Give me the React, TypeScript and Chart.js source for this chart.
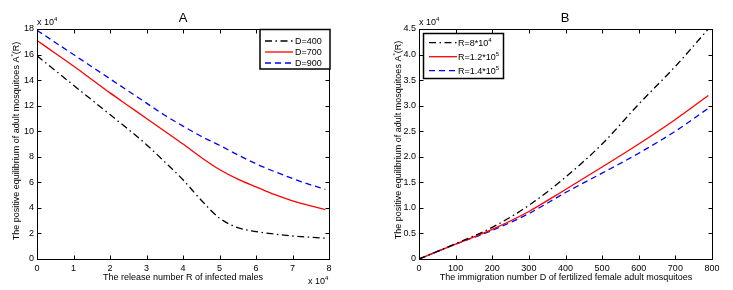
import React, { useEffect, useRef } from 'react';
import { Chart, registerables } from 'chart.js';
Chart.register(...registerables);

// Panel A: release number R (x 10^4) vs A*(R) (x 10^4)
const releaseR = [0, 0.5, 1, 1.5, 2, 2.5, 3, 3.5, 4, 4.5, 5, 5.5, 6, 6.5, 7, 7.5, 7.9];
const aD400 = [15.9, 14.75, 13.6, 12.45, 11.3, 10.15, 8.95, 7.6, 6.2, 4.6, 3.2, 2.45, 2.15, 1.95, 1.8, 1.7, 1.63];
const aD700 = [17.1, 16.1, 15.1, 14.05, 13.0, 12.0, 11.0, 10.0, 9.0, 7.95, 7.0, 6.25, 5.65, 5.05, 4.55, 4.15, 3.87];
const aD900 = [17.9, 16.95, 16.0, 15.05, 14.1, 13.15, 12.2, 11.25, 10.4, 9.6, 8.9, 8.15, 7.45, 6.85, 6.3, 5.8, 5.45];
const aLabels = ['D=400', 'D=700', 'D=900'];

// Panel B: immigration number D vs A*(R) (x 10^4)
const immigD = [0, 100, 200, 300, 400, 500, 600, 700, 790];
const bR8e4 = [0, 0.3, 0.62, 1.05, 1.6, 2.25, 3.03, 3.77, 4.5];
const bR12e5 = [0, 0.29, 0.58, 0.93, 1.36, 1.8, 2.25, 2.73, 3.2];
const bR14e5 = [0, 0.29, 0.56, 0.89, 1.3, 1.68, 2.07, 2.5, 2.95];
const bLabels = [
  [{ t: 'R=8*10' }, { t: '4', sup: true }],
  [{ t: 'R=1.2*10' }, { t: '5', sup: true }],
  [{ t: 'R=1.4*10' }, { t: '5', sup: true }],
];

const FONT = '"Liberation Sans", Arial, sans-serif';
const COLORS = ['#000000', '#ff0000', '#0000ff'];
const DASHES = [[7, 3.5, 1.5, 3.5], [], [6, 4]];

type Part = { t: string; sup?: boolean };

function richWidth(ctx: CanvasRenderingContext2D, parts: Part[], size: number) {
  let w = 0;
  for (const p of parts) {
    ctx.font = `${p.sup ? Math.round(size * 0.65) : size}px ${FONT}`;
    w += ctx.measureText(p.t).width;
  }
  return w;
}

function drawRich(ctx: CanvasRenderingContext2D, parts: Part[], x: number, y: number, size: number, align: 'left' | 'center' = 'left') {
  const w = richWidth(ctx, parts, size);
  let cx = align === 'center' ? x - w / 2 : x;
  ctx.textAlign = 'left';
  ctx.textBaseline = 'alphabetic';
  for (const p of parts) {
    const s = p.sup ? Math.round(size * 0.65) : size;
    ctx.font = `${s}px ${FONT}`;
    ctx.fillText(p.t, cx, p.sup ? y - size * 0.45 : y);
    cx += ctx.measureText(p.t).width;
  }
}

type Deco = {
  title: string; titleX: number;
  topMult: number; bottomMult?: [number, number];
  xTitle: string; xTitleX: number;
  yTitleX: number; yTitleY: number;
  legend: { box: [number, number, number, number]; rows: number[]; lineX: [number, number]; textX: number; labels: Part[][] };
};

const framePlugin = {
  id: 'frameDeco',
  afterDraw(chart: any, _a: any, opts: any) {
    const d: Deco = opts.deco;
    if (!d) return;
    const { ctx, chartArea: ca, scales } = chart;
    ctx.save();
    ctx.strokeStyle = '#000';
    ctx.lineWidth = 1;
    ctx.setLineDash([]);
    const L = Math.round(ca.left) + 0.5, R = Math.round(ca.right) + 0.5;
    const T = Math.round(ca.top) + 0.5, B = Math.round(ca.bottom) + 0.5;
    ctx.strokeRect(L, T, R - L, B - T);
    ctx.beginPath();
    for (const t of scales.x.ticks) {
      const px = Math.round(scales.x.getPixelForValue(t.value)) + 0.5;
      ctx.moveTo(px, B); ctx.lineTo(px, B - 4);
      ctx.moveTo(px, T); ctx.lineTo(px, T + 4);
    }
    for (const t of scales.y.ticks) {
      const py = Math.round(scales.y.getPixelForValue(t.value)) + 0.5;
      ctx.moveTo(L, py); ctx.lineTo(L + 4, py);
      ctx.moveTo(R, py); ctx.lineTo(R - 4, py);
    }
    ctx.stroke();

    ctx.fillStyle = '#000';
    // title
    ctx.font = `13px ${FONT}`;
    ctx.textAlign = 'center';
    ctx.textBaseline = 'alphabetic';
    ctx.fillText(d.title, d.titleX, 22);
    // multipliers
    drawRich(ctx, [{ t: 'x 10' }, { t: '4', sup: true }], d.topMult, 25, 9);
    if (d.bottomMult) drawRich(ctx, [{ t: 'x 10' }, { t: '4', sup: true }], d.bottomMult[0], d.bottomMult[1], 9);
    // x title
    ctx.font = `9px ${FONT}`;
    ctx.textAlign = 'center';
    ctx.fillText(d.xTitle, d.xTitleX, 280);
    // y title
    ctx.save();
    ctx.translate(d.yTitleX, d.yTitleY);
    ctx.rotate(-Math.PI / 2);
    drawRich(ctx, [{ t: 'The positive equilibrium of adult mosquitoes A' }, { t: '*', sup: true }, { t: '(R)' }], 0, 0, 9, 'center');
    ctx.restore();
    // legend
    const lg = d.legend;
    const [bx0, by0, bx1, by1] = lg.box;
    ctx.fillStyle = '#fff';
    ctx.fillRect(bx0, by0, bx1 - bx0, by1 - by0);
    ctx.lineWidth = 1.5;
    ctx.strokeStyle = '#000';
    ctx.strokeRect(bx0, by0, bx1 - bx0, by1 - by0);
    lg.rows.forEach((ry, i) => {
      ctx.strokeStyle = COLORS[i];
      ctx.lineWidth = 1.3;
      ctx.setLineDash(DASHES[i]);
      ctx.beginPath();
      ctx.moveTo(lg.lineX[0], ry);
      ctx.lineTo(lg.lineX[1], ry);
      ctx.stroke();
      ctx.setLineDash([]);
      ctx.fillStyle = '#000';
      drawRich(ctx, lg.labels[i], lg.textX, ry + 3.3, 9);
    });
    ctx.restore();
  },
};

function makeConfig(xs: number[], series: number[][], xr: [number, number, number], yr: [number, number, number], yWidth: number, padRight: number, deco: Deco) {
  return {
    type: 'line' as const,
    data: {
      datasets: series.map((s, i) => ({
        data: xs.map((x, j) => ({ x, y: s[j] })),
        borderColor: COLORS[i],
        borderWidth: 1.3,
        borderDash: DASHES[i],
        pointRadius: 0,
        fill: false,
        cubicInterpolationMode: 'monotone' as const,
      })),
    },
    options: {
      responsive: false,
      animation: false as const,
      devicePixelRatio: 1,
      layout: { padding: { left: 0, right: padRight, top: 29, bottom: 0 } },
      plugins: { legend: { display: false }, tooltip: { enabled: false }, frameDeco: { deco } },
      scales: {
        x: {
          type: 'linear' as const, min: xr[0], max: xr[1],
          grid: { display: false, drawTicks: false },
          border: { display: false },
          ticks: { stepSize: xr[2], padding: 4, color: '#000', font: { family: FONT, size: 9 }, maxRotation: 0 },
          afterFit: (s: any) => { s.height = 31; },
        },
        y: {
          type: 'linear' as const, min: yr[0], max: yr[1],
          grid: { display: false, drawTicks: false },
          border: { display: false },
          ticks: { stepSize: yr[2], padding: 3, color: '#000', font: { family: FONT, size: 9 } },
          afterFit: (s: any) => { s.width = yWidth; },
        },
      },
    },
    plugins: [framePlugin],
  };
}

function Panel({ config, width, left }: { config: any; width: number; left: number }) {
  const ref = useRef<HTMLCanvasElement>(null);
  useEffect(() => {
    if (!ref.current) return;
    const c = new Chart(ref.current, config);
    return () => c.destroy();
  }, []);
  return <canvas ref={ref} width={width} height={290} style={{ position: 'absolute', left, top: 0, width, height: 290 }} />;
}

export default function App() {
  const cfgA = makeConfig(releaseR, [aD400, aD700, aD900], [0, 8, 1], [0, 18, 2], 37, 37, {
    title: 'A', titleX: 183, topMult: 37, bottomMult: [308, 284],
    xTitle: 'The release number R of infected males', xTitleX: 183,
    yTitleX: 19, yTitleY: 141,
    legend: { box: [260, 29.5, 330, 69], rows: [41, 52, 63], lineX: [265, 293], textX: 295, labels: aLabels.map(t => [{ t }]) },
  });
  const cfgB = makeConfig(immigD, [bR8e4, bR12e5, bR14e5], [0, 800, 100], [0, 4.5, 0.5], 53, 21, {
    title: 'B', titleX: 199, topMult: 53,
    xTitle: 'The immigration number D of fertilized female adult mosquitoes', xTitleX: 200,
    yTitleX: 35, yTitleY: 140,
    legend: { box: [57.5, 33.5, 137.5, 78.5], rows: [42.7, 56.7, 70.7], lineX: [63, 91], textX: 92, labels: bLabels },
  });
  return (
    <div style={{ position: 'absolute', left: 0, top: 0, width: 733, height: 290, background: '#fff' }}>
      <Panel config={cfgA} width={366} left={0} />
      <Panel config={cfgB} width={367} left={366} />
    </div>
  );
}
